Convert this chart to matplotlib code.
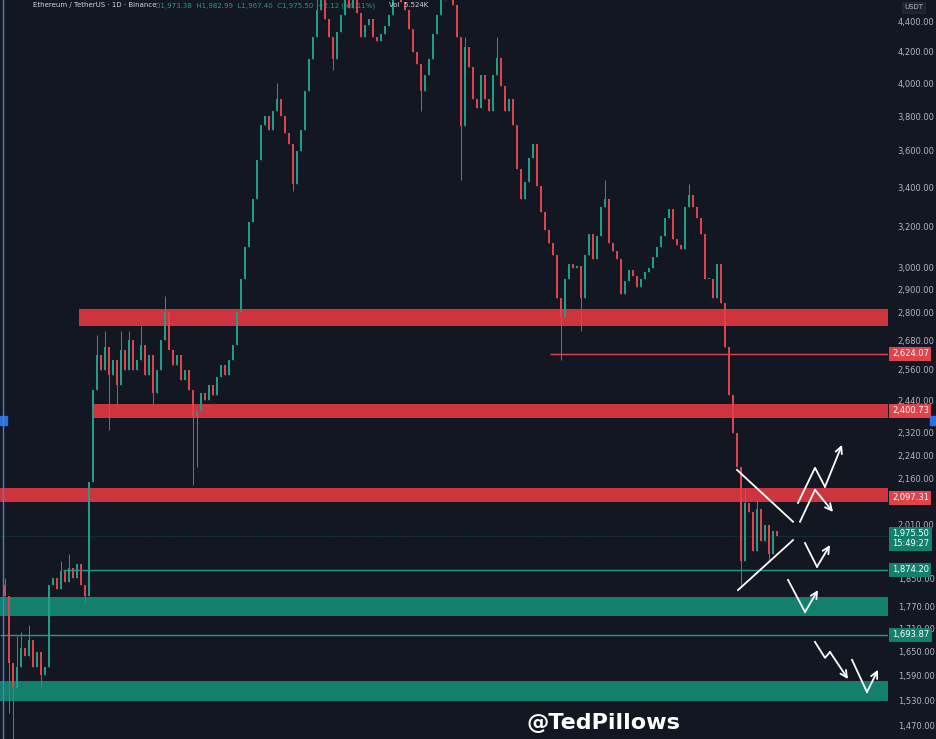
import numpy as np
import matplotlib.pyplot as plt
from matplotlib.patches import Rectangle
import matplotlib.transforms as mtransforms

# daily closes (left to right)
closes = [1800, 1620, 1560, 1610, 1660, 1640, 1680, 1610, 1650, 1590,
          1610, 1830, 1850, 1820, 1870, 1840, 1880, 1850, 1890, 1830,
          1800, 2150, 2480, 2620, 2560, 2650, 2540, 2600, 2500, 2640,
          2560, 2680, 2560, 2600, 2660, 2540, 2620, 2470, 2560, 2680,
          2800, 2640, 2580, 2620, 2520, 2560, 2480, 2380, 2400, 2470,
          2440, 2500, 2460, 2530, 2580, 2540, 2600, 2660, 2800, 2950,
          3100, 3220, 3340, 3550, 3750, 3800, 3720, 3830, 3900, 3800,
          3700, 3640, 3420, 3600, 3720, 3950, 4150, 4300, 4480, 4550,
          4420, 4300, 4150, 4330, 4450, 4580, 4500, 4560, 4460, 4300,
          4380, 4420, 4300, 4270, 4320, 4370, 4450, 4560, 4620, 4540,
          4480, 4350, 4200, 4120, 3950, 4050, 4150, 4320, 4450, 4550,
          4620, 4700, 4520, 4300, 3740, 4230, 4100, 3900, 3850, 4050,
          3900, 3830, 4050, 4160, 3980, 3830, 3900, 3750, 3500, 3340,
          3430, 3560, 3640, 3410, 3270, 3180, 3120, 3060, 2860, 2780,
          2950, 3020, 3000, 3010, 2860, 3060, 3160, 3040, 3150, 3300,
          3340, 3120, 3080, 3040, 2880, 2940, 2990, 2960, 2910, 2950,
          2980, 3000, 3050, 3100, 3150, 3240, 3290, 3140, 3110, 3090,
          3300, 3360, 3300, 3240, 3160, 2950, 2950, 2860, 3020, 2840,
          2650, 2460, 2320, 2200, 1900, 2080, 2050, 1930, 2060, 1960,
          2010, 1920, 1990, 1975.5]
first_open = 1830

# long wicks only
wick_highs = {0: 1850, 3: 1690, 4: 1700, 6: 1720, 14: 1900, 16: 1920,
              23: 2700, 25: 2720, 29: 2720, 31: 2720, 34: 2740, 40: 2870,
              68: 4000, 78: 4650, 85: 4750, 98: 4700, 111: 4800, 115: 4300,
              123: 4300, 150: 3440, 171: 3420, 185: 2130, 188: 2090}
wick_lows = {1: 1500, 2: 1440, 9: 1560, 20: 1780, 26: 2330, 28: 2420,
             37: 2420, 47: 2140, 48: 2200, 72: 3380, 82: 4080, 104: 3830,
             114: 3440, 139: 2600, 144: 2720, 184: 1830, 191: 1900}

# zones: (low, high, start index)
red_zones = [(2740, 2815, 18.5), (2374, 2427, 21.75), (2083, 2129, -1.25)]
green_zones = [(1745, 1797, -1.25), (1529, 1577, -1.25)]

red_line = (2624.07, 136.25)
green_lines = [(1874.20, 14.5), (1693.87, -1.25)]

tick_vals = [4400, 4200, 4000, 3800, 3600, 3400, 3200, 3000, 2900, 2800,
             2680, 2560, 2440, 2320, 2240, 2160, 2010, 1850, 1770, 1710,
             1650, 1590, 1530, 1470]

# drawn arrows (index, price)
tri_top = [(183, 2190), (197, 2020)]
tri_bot = [(183.25, 1816), (197, 1963)]
arrows = [
    [(198.25, 2080), (202.5, 2197), (205, 2133), (209.25, 2277)],
    [(198.75, 2020), (202.5, 2123), (207, 2051)],
    [(200, 1954), (203, 1883), (206.25, 1948)],
    [(195.75, 1845), (200, 1755), (203.25, 1816)],
    [(202.5, 1675), (205, 1634), (206.25, 1649), (210.75, 1581)],
    [(211.75, 1629), (215.5, 1549), (218.25, 1604)],
]

bg = '#131722'
up_col = '#1f9d8b'
dn_col = '#e0434b'

fig = plt.figure(figsize=(9.37, 7.39), dpi=100, facecolor=bg)
ax = fig.add_axes([0, 0, 888 / 937, 1])
ax.set_facecolor(bg)
ax.set_yscale('log')
ax.set_xlim(-1.25, 220.75)
ax.set_ylim(1440, 4553)

# zones and lines
for lo, hi, x0 in red_zones:
    ax.add_patch(Rectangle((x0, lo), 230, hi - lo, color='#d9363f', alpha=0.95, lw=0, zorder=1))
for lo, hi, x0 in green_zones:
    ax.add_patch(Rectangle((x0, lo), 230, hi - lo, color='#13806e', lw=0, zorder=1))
ax.hlines(red_line[0], red_line[1], 230, color='#e0434b', lw=1, zorder=1)
for p, x0 in green_lines:
    ax.hlines(p, x0, 230, color='#1f9d8b', lw=1, zorder=1)
ax.axhline(closes[-1], color='#1f9d8b', lw=0.5, ls=':', alpha=0.6, zorder=1)

# candles
opens = [first_open] + closes[:-1]
idx = np.arange(len(closes))
for i in idx:
    o, c = opens[i], closes[i]
    col = up_col if c >= o else dn_col
    hi = wick_highs.get(i, max(o, c))
    lo = wick_lows.get(i, min(o, c))
    ax.vlines(i, lo, hi, color=col, lw=0.7, zorder=2)
    h = abs(c - o)
    if h < 2:
        h = 2
    ax.bar(i, h, bottom=min(o, c), width=0.5, color=col, lw=0, zorder=3)

# triangle and arrows
for seg in (tri_top, tri_bot):
    xs, ys = zip(*seg)
    ax.plot(xs, ys, color='white', lw=1.3, zorder=4)
for path in arrows:
    xs, ys = zip(*path)
    ax.plot(xs[:-1], ys[:-1], color='white', lw=1.3, zorder=4)
    ax.annotate('', xy=path[-1], xytext=path[-2],
                arrowprops=dict(arrowstyle='->', color='white', lw=1.3,
                                mutation_scale=12, shrinkA=0, shrinkB=0), zorder=4)

# price axis
ax.yaxis.tick_right()
ax.set_yticks(tick_vals)
ax.set_yticklabels([f'{v:,.2f}' for v in tick_vals])
ax.yaxis.set_minor_locator(plt.NullLocator())
ax.tick_params(axis='y', colors='#b2b5be', labelsize=6, length=0, pad=7)
ax.set_xticks([])
for s in ax.spines.values():
    s.set_visible(False)

trans = mtransforms.blended_transform_factory(ax.transAxes, ax.transData)


def price_tag(p, txt, col, va='center'):
    ax.text(1.0045, p, txt, transform=trans, fontsize=6, color='white', ha='left', va=va,
            zorder=10, clip_on=False,
            bbox=dict(boxstyle='square,pad=0.3', fc=col, ec='none'))


price_tag(2624.07, '2,624.07', '#e0434b')
price_tag(2400.73, '2,400.73', '#e0434b')
price_tag(2097.31, '2,097.31', '#e0434b')
price_tag(1997, '1,975.50\n15:49:27', '#13806e', va='top')
price_tag(1874.20, '1,874.20', '#13806e')
price_tag(1693.87, '1,693.87', '#13806e')

fig.text(0.975, 0.994, 'USDT', fontsize=5, color='#b2b5be', ha='center', va='top',
         bbox=dict(boxstyle='square,pad=0.3', fc='#1e222d', ec='#2a2e39', lw=0.6))

# header
fig.text(0.035, 0.997, 'Ethereum / TetherUS · 1D · Binance', fontsize=5, color='#d1d4dc', va='top')
fig.text(0.165, 0.997, 'O1,973.38  H1,982.99  L1,967.40  C1,975.50  +2.12 (+0.11%)',
         fontsize=5, color=up_col, va='top')
fig.text(0.415, 0.997, 'Vol  5.524K', fontsize=5, color='#d1d4dc', va='top')

# watermark
ax.text(0.68, 0.008, '@TedPillows', transform=ax.transAxes, fontsize=16, fontweight='bold',
        color='white', ha='center', va='bottom', zorder=11)

# screenshot edge marks
fig.add_artist(plt.Line2D([0.003, 0.003], [0, 1], color='#4a7fd0', lw=1))
fig.add_artist(Rectangle((0, 0.425), 0.007, 0.012, color='#2b6fe0', transform=fig.transFigure))
fig.add_artist(Rectangle((0.993, 0.425), 0.007, 0.012, color='#2b6fe0', transform=fig.transFigure))

fig.savefig('out.png', dpi=100, facecolor=bg)
